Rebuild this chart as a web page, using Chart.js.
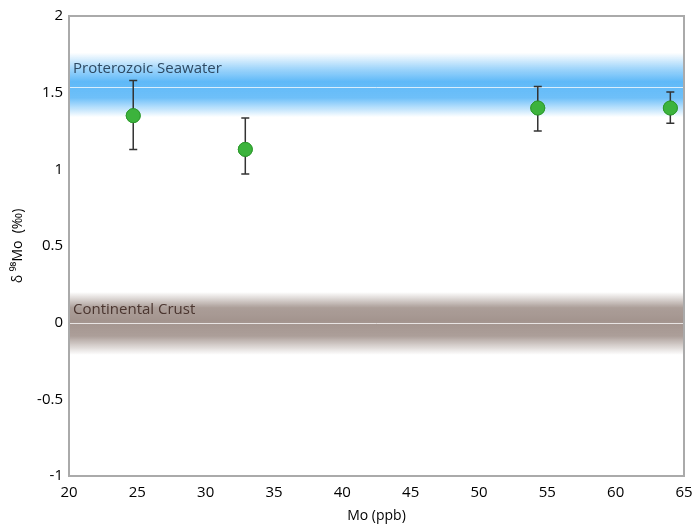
<!DOCTYPE html>
<html>
<head>
<meta charset="utf-8">
<script src="https://cdn.jsdelivr.net/npm/chart.js@4/dist/chart.umd.min.js"></script>
<style>
  html, body { margin: 0; padding: 0; background: #fff; }
  #wrap { width: 698px; height: 524px; }
</style>
</head>
<body>
<div id="wrap"><canvas id="c"></canvas></div>
<script>
const moPpb = [24.7, 32.9, 54.3, 64.0];
const deltaMo = [1.35, 1.13, 1.40, 1.40];
const errHigh = [1.58, 1.335, 1.54, 1.505];
const errLow = [1.13, 0.97, 1.25, 1.30];

const bandNames = ["Proterozoic Seawater", "Continental Crust"];
const bandCenter = [1.54, 0.0];
const bandTop = [1.76, 0.20];
const bandBottom = [1.34, -0.21];

const fontFam = "'Open Sans', sans-serif";

const bandPlugin = {
  id: "bands",
  beforeDatasetsDraw(chart) {
    const { ctx, chartArea, scales } = chart;
    const y = scales.y;
    const styles = [
      { rgb: "95,185,248", text: "#2e4a63", lift: 14 },
      { rgb: "163,148,142", text: "#4b3630", lift: 9 },
    ];
    ctx.save();
    bandNames.forEach((name, i) => {
      const top = y.getPixelForValue(bandTop[i]);
      const bot = y.getPixelForValue(bandBottom[i]);
      const mid = y.getPixelForValue(bandCenter[i]);
      const c = styles[i].rgb;
      const g = ctx.createLinearGradient(0, top, 0, bot);
      g.addColorStop(0, `rgba(${c},0)`);
      g.addColorStop(0.25, `rgba(${c},${i === 1 ? 0.9 : 0.6})`);
      g.addColorStop(0.45, `rgba(${c},1)`);
      g.addColorStop(0.7, `rgba(${c},0.9)`);
      g.addColorStop(1, `rgba(${c},0)`);
      ctx.fillStyle = g;
      ctx.fillRect(chartArea.left, top, chartArea.right - chartArea.left, bot - top);
      ctx.strokeStyle = "rgba(255,255,255,0.75)";
      ctx.lineWidth = 1;
      ctx.beginPath();
      ctx.moveTo(chartArea.left, Math.round(mid) + 0.5);
      ctx.lineTo(chartArea.right, Math.round(mid) + 0.5);
      ctx.stroke();
      ctx.fillStyle = styles[i].text;
      ctx.font = "15px " + fontFam;
      ctx.textBaseline = "alphabetic";
      ctx.fillText(name, chartArea.left + 4, mid - styles[i].lift);
    });
    ctx.restore();
  },
};

const errorBarPlugin = {
  id: "errorBars",
  afterDatasetsDraw(chart) {
    const { ctx, scales } = chart;
    const meta = chart.getDatasetMeta(0);
    ctx.save();
    ctx.strokeStyle = "#333";
    ctx.lineWidth = 1.5;
    meta.data.forEach((pt, i) => {
      const x = scales.x.getPixelForValue(moPpb[i]);
      const hi = scales.y.getPixelForValue(errHigh[i]);
      const lo = scales.y.getPixelForValue(errLow[i]);
      ctx.beginPath();
      ctx.moveTo(x, hi); ctx.lineTo(x, lo);
      ctx.moveTo(x - 4, hi); ctx.lineTo(x + 4, hi);
      ctx.moveTo(x - 4, lo); ctx.lineTo(x + 4, lo);
      ctx.stroke();
    });
    ctx.restore();
    meta.data.forEach((pt) => pt.draw(ctx));
  },
};

const boxPlugin = {
  id: "box",
  afterDraw(chart) {
    const { ctx, chartArea } = chart;
    ctx.save();
    ctx.strokeStyle = "#aaa";
    ctx.lineWidth = 2;
    ctx.strokeRect(chartArea.left, chartArea.top, chartArea.right - chartArea.left, chartArea.bottom - chartArea.top);
    ctx.restore();
  },
};

new Chart(document.getElementById("c"), {
  type: "scatter",
  data: {
    datasets: [{
      data: moPpb.map((x, i) => ({ x, y: deltaMo[i] })),
      backgroundColor: "#3cb33c",
      borderColor: "#2e9a2e",
      borderWidth: 1,
      pointRadius: 7,
    }],
  },
  options: {
    responsive: true,
    maintainAspectRatio: false,
    animation: false,
    layout: { padding: { top: 16, right: 14, left: 0, bottom: 0 } },
    plugins: { legend: { display: false }, tooltip: { enabled: false } },
    scales: {
      x: {
        type: "linear", min: 20, max: 65,
        ticks: { stepSize: 5, color: "#000", font: { size: 15, family: fontFam }, padding: 8 },
        grid: { display: false, drawTicks: false },
        border: { display: false },
        title: { display: true, text: "Mo (ppb)", color: "#000", font: { size: 14, family: fontFam }, padding: { top: -4, bottom: 0 } },
        afterFit(s) { s.height = 48; s.paddingLeft = 0; s.paddingRight = 0; },
      },
      y: {
        type: "linear", min: -1, max: 2,
        ticks: {
          stepSize: 0.5, color: "#000", font: { size: 15, family: fontFam }, padding: 6,
          callback: (v) => String(v),
        },
        grid: { display: false, drawTicks: false },
        border: { display: false },
        title: { display: true, text: "δ ⁹⁸Mo  (‰)", color: "#000", font: { size: 14, family: fontFam }, padding: { top: 10, bottom: 0 } },
        afterFit(s) { s.width = 69; s.paddingTop = 0; s.paddingBottom = 0; },
      },
    },
  },
  plugins: [bandPlugin, errorBarPlugin, boxPlugin],
});
</script>
</body>
</html>
